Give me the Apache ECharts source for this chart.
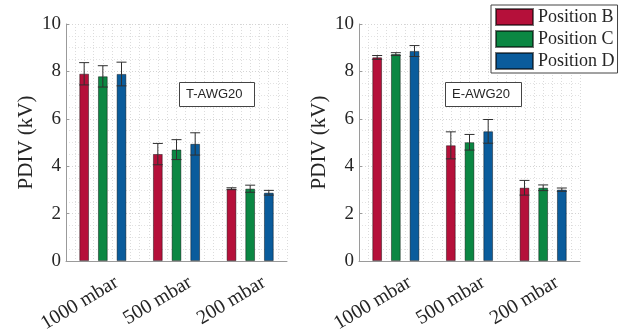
<!DOCTYPE html>
<html><head><meta charset="utf-8">
<script src="https://cdn.jsdelivr.net/npm/echarts@6/dist/echarts.min.js"></script>
<style>html,body{margin:0;padding:0;background:#fff}#c{width:626px;height:332px}</style>
</head><body><div id="c"></div>
<script>
const categories = ['1000 mbar', '500 mbar', '200 mbar'];
const seriesNames = ['Position B', 'Position C', 'Position D'];
const colors = ['#b5103a', '#0b8743', '#0a5c9c'];
const yTicks = [0, 2, 4, 6, 8, 10];
const panelTitles = ['T-AWG20', 'E-AWG20'];

// T-AWG20
const tB = [7.90, 4.51, 3.05];
const tC = [7.79, 4.70, 3.05];
const tD = [7.89, 4.94, 2.88];
const tBerr = [0.47, 0.45, 0.04];
const tCerr = [0.45, 0.42, 0.15];
const tDerr = [0.50, 0.47, 0.10];
// E-AWG20
const eB = [8.59, 4.88, 3.09];
const eC = [8.73, 5.01, 3.09];
const eD = [8.86, 5.47, 3.01];
const eBerr = [0.08, 0.57, 0.31];
const eCerr = [0.06, 0.33, 0.12];
const eDerr = [0.23, 0.50, 0.07];

const panels = [
  {vals: [tB, tC, tD], errs: [tBerr, tCerr, tDerr]},
  {vals: [eB, eC, eD], errs: [eBerr, eCerr, eDerr]}
];

const BW = 0.13, GAP = 0.95;
const SLOTS = 24;
const labelData = [];
for (let k = 0; k < SLOTS; k++) labelData.push('');
categories.forEach((c, i) => { labelData[5 + i * 8] = c; });

const serif = '"Liberation Serif", "Times New Roman", "DejaVu Serif", serif';
const txt = '#262626';
const axisCol = '#9a9a9a';
const gridLefts = [66, 359];

const grid = [], xAxis = [], yAxis = [], series = [], title = [];
panels.forEach((p, g) => {
  grid.push({left: gridLefts[g], top: 24, width: 221, height: 237, containLabel: false, outerBoundsMode: 'none'});
  xAxis.push({
    type: 'category', gridIndex: g, data: categories,
    axisLine: {show: true, lineStyle: {color: axisCol, width: 1}},
    axisTick: {show: false}, axisLabel: {show: false}, splitLine: {show: false}
  });
  xAxis.push({
    type: 'category', gridIndex: g, data: labelData, position: 'bottom',
    axisLine: {show: false}, axisTick: {show: false},
    axisLabel: {show: true, interval: 0, rotate: 31, margin: 20, fontFamily: serif, fontSize: 20, color: txt},
    splitLine: {show: true, interval: 0, lineStyle: {color: '#dcdcdc', type: [1, 2], width: 1}}
  });
  yAxis.push({
    type: 'value', gridIndex: g, min: 0, max: 10, interval: 2,
    name: 'PDIV (kV)', nameLocation: 'middle', nameGap: 29,
    nameTextStyle: {fontFamily: serif, fontSize: 21, color: txt},
    axisLine: {show: true, lineStyle: {color: axisCol, width: 1}},
    axisTick: {show: true, inside: true, length: 3, lineStyle: {color: axisCol}},
    axisLabel: {fontFamily: serif, fontSize: 19, color: txt, margin: 5,
      formatter: v => yTicks.includes(v) ? String(v) : ''},
    splitLine: {show: true, lineStyle: {color: '#d4d4d4', type: [1, 2]}},
    minorTick: {show: false, splitNumber: 4},
    minorSplitLine: {show: true, lineStyle: {color: '#e2e2e2', type: [1, 2]}}
  });
  title.push({
    text: panelTitles[g], left: g === 0 ? 179 : 445, top: 82,
    padding: [6, 12, 6, 7], borderColor: '#444', borderWidth: 1, backgroundColor: '#fff',
    textStyle: {fontFamily: '"Liberation Sans", Arial, sans-serif', fontSize: 13, fontWeight: 'normal', color: txt}
  });
  p.vals.forEach((arr, s) => {
    series.push({
      type: 'bar', name: seriesNames[s], xAxisIndex: g * 2, yAxisIndex: g,
      data: arr, barWidth: (BW * 100) + '%', barGap: (GAP * 100) + '%',
      itemStyle: {color: colors[s], borderColor: 'rgba(0,0,0,0.55)', borderWidth: 0.8},
      z: 2
    });
  });
  p.vals.forEach((arr, s) => {
    const off = s - 1;
    series.push({
      type: 'custom', xAxisIndex: g * 2, yAxisIndex: g, z: 5, silent: true,
      data: arr.map((v, i) => [i, v, p.errs[s][i]]),
      encode: {x: 0, y: 1},
      renderItem: function (params, api) {
        const x = api.value(0), v = api.value(1), e = api.value(2);
        const band = api.size([1, 0])[0];
        const dx = off * band * BW * (1 + GAP);
        const top = api.coord([x, v + e]);
        const bot = api.coord([x, v - e]);
        const cx = top[0] + dx;
        const cap = 5;
        const st = {stroke: '#303030', lineWidth: 1};
        return {type: 'group', children: [
          {type: 'line', shape: {x1: cx, y1: top[1], x2: cx, y2: bot[1]}, style: st},
          {type: 'line', shape: {x1: cx - cap, y1: top[1], x2: cx + cap, y2: top[1]}, style: st},
          {type: 'line', shape: {x1: cx - cap, y1: bot[1], x2: cx + cap, y2: bot[1]}, style: st}
        ]};
      }
    });
  });
});

const chart = echarts.init(document.getElementById('c'), null, {renderer: 'canvas'});
chart.setOption({
  animation: false,
  backgroundColor: '#fff',
  title: title,
  grid: grid, xAxis: xAxis, yAxis: yAxis, series: series,
  legend: {
    data: seriesNames, orient: 'vertical', left: 491, top: 5,
    itemWidth: 37, itemHeight: 16, itemGap: 4,
    padding: [3, 3, 3, 4], borderColor: '#444', borderWidth: 1, backgroundColor: '#fff',
    textStyle: {fontFamily: serif, fontSize: 18, color: txt},
    icon: 'rect'
  }
});
</script></body></html>
